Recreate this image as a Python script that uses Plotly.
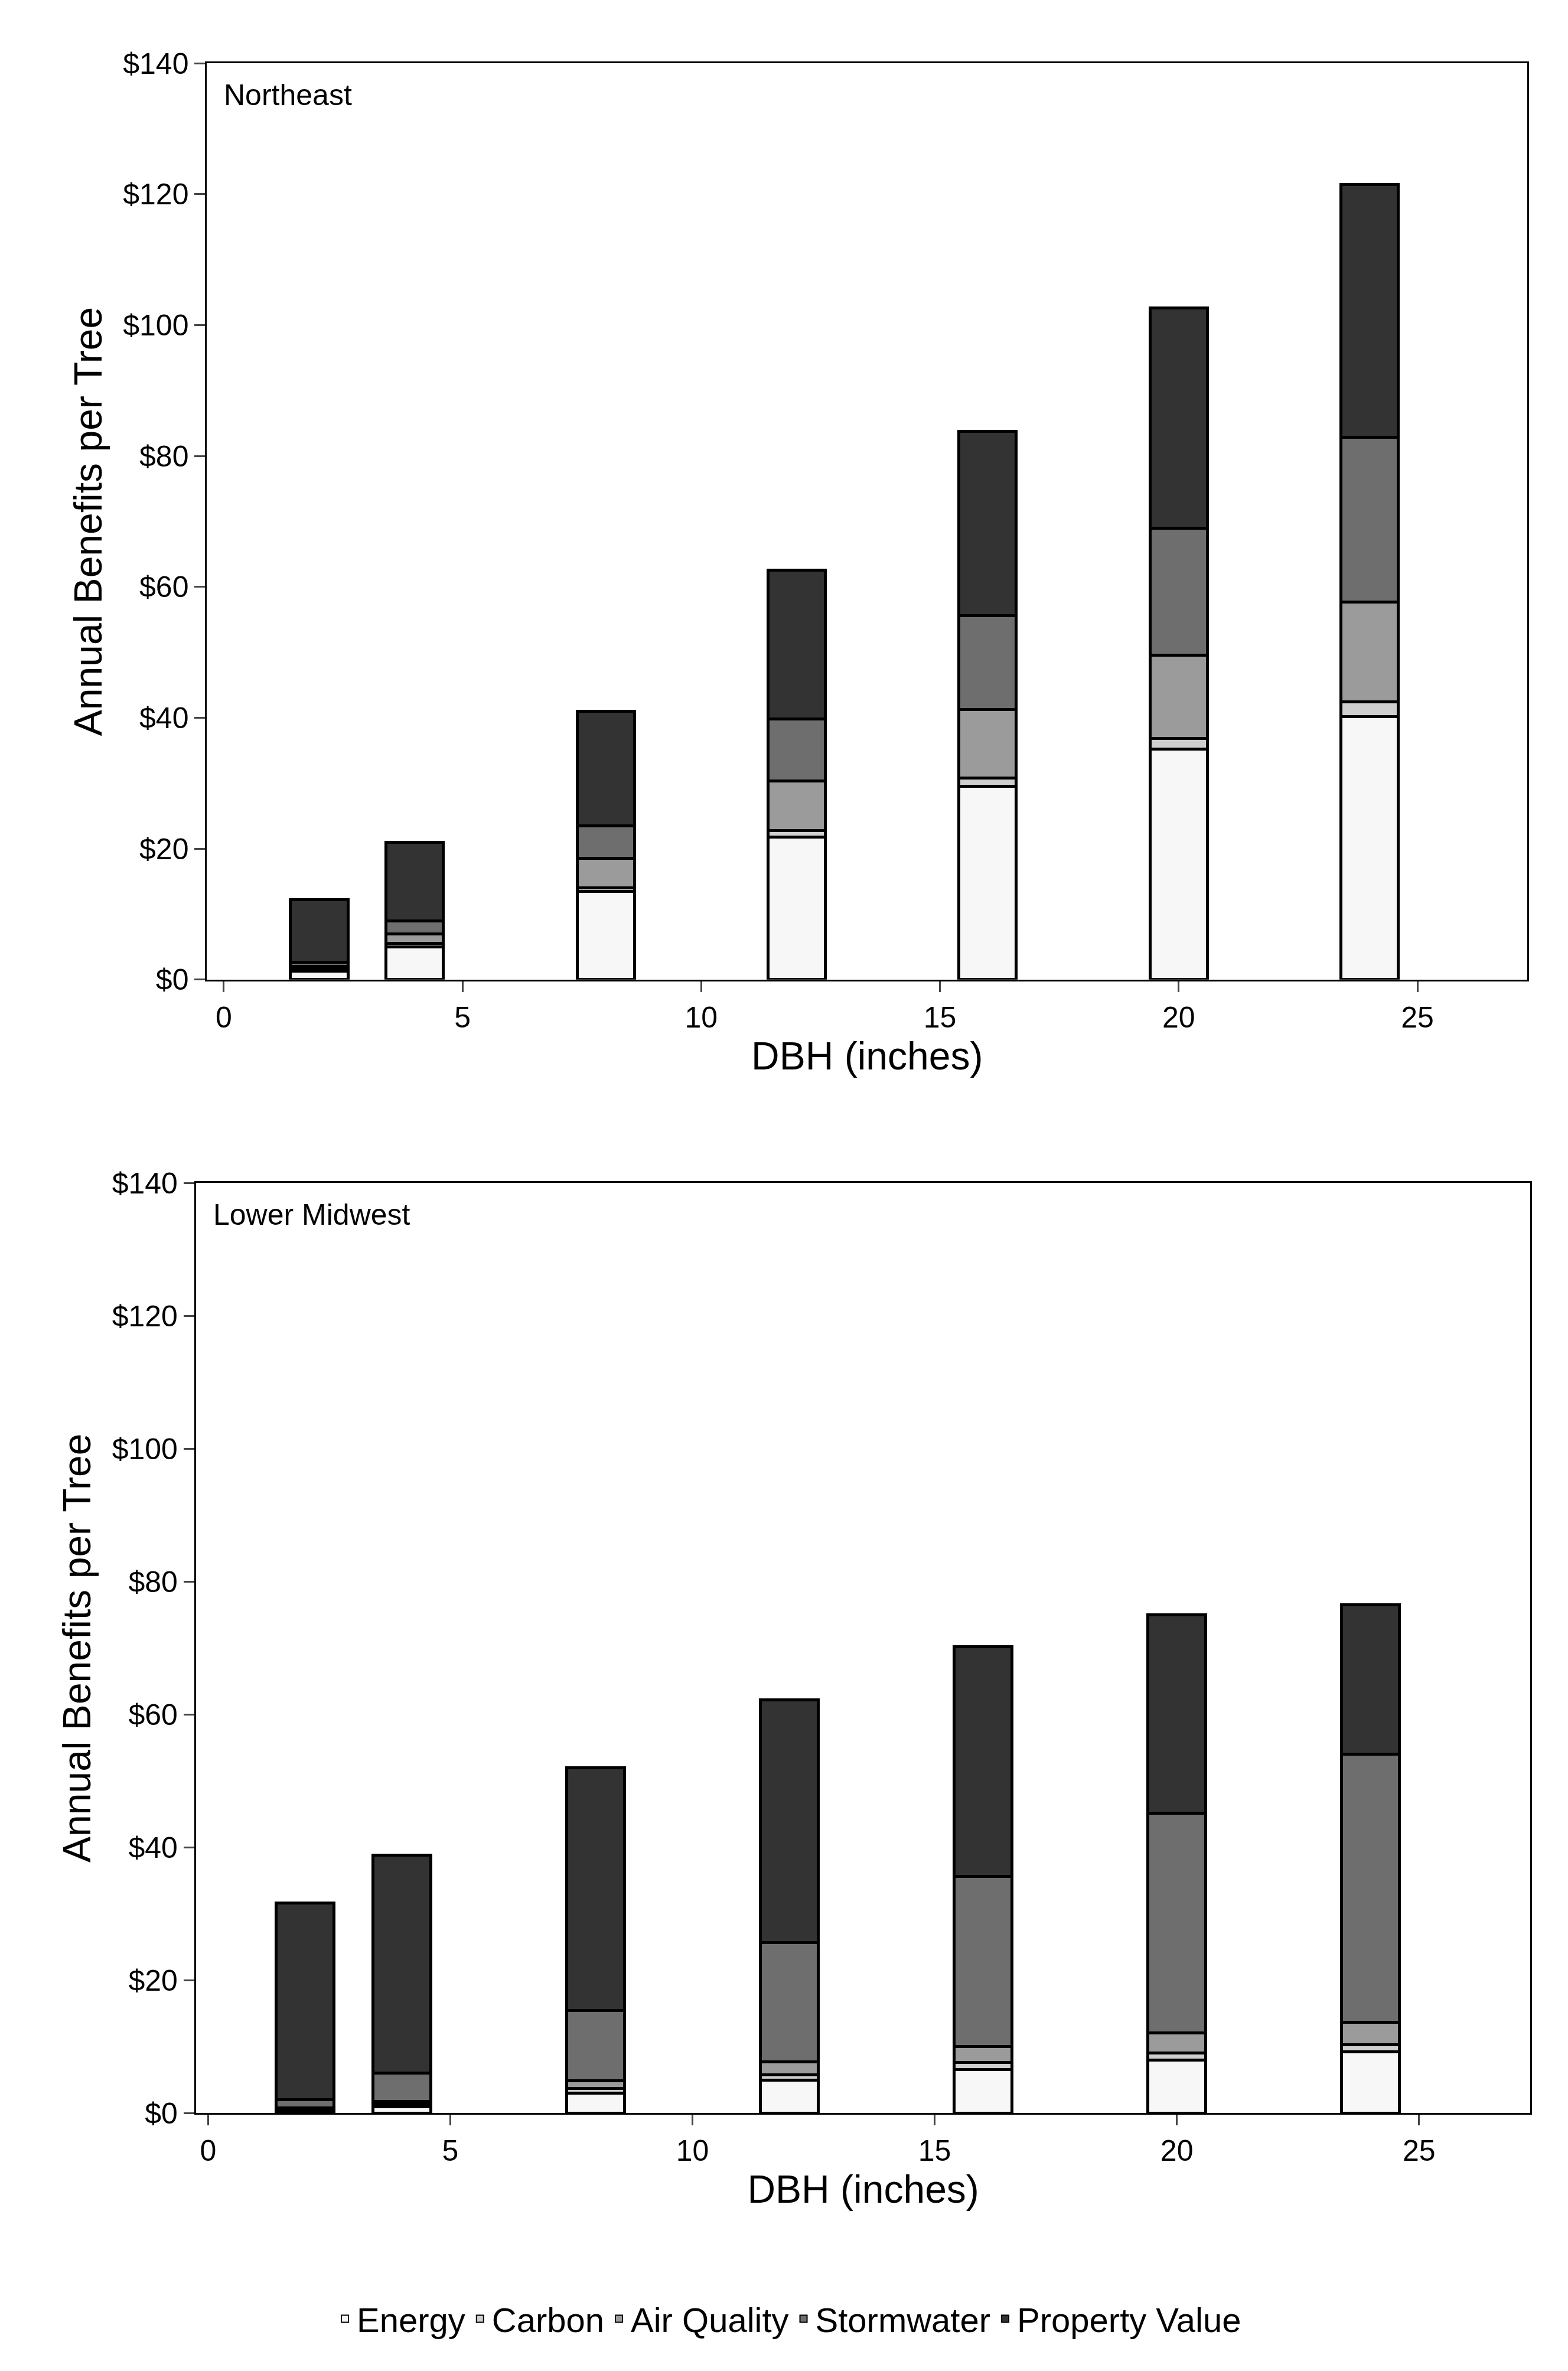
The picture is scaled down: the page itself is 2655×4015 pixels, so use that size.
import plotly.graph_objects as go

# Data
dbh = [2, 4, 8, 12, 16, 20, 24]
categories = ["Energy", "Carbon", "Air Quality", "Stormwater", "Property Value"]
colors = ["#f7f7f7", "#cfcfcf", "#9b9b9b", "#6e6e6e", "#333333"]

ne_energy = [1.3, 5.0, 13.5, 21.8, 29.5, 35.2, 40.2]
ne_carbon = [0.3, 0.5, 0.5, 1.0, 1.3, 1.6, 2.2]
ne_air = [0.4, 1.5, 4.5, 7.5, 10.5, 12.8, 15.3]
ne_storm = [0.6, 2.0, 5.0, 9.5, 14.3, 19.4, 25.2]
ne_property = [9.6, 12.0, 17.5, 22.8, 28.2, 33.6, 38.6]

lm_energy = [0.3, 1.0, 3.0, 5.0, 6.6, 8.0, 9.2]
lm_carbon = [0.2, 0.4, 0.7, 0.8, 1.0, 1.1, 1.1]
lm_air = [0.3, 0.4, 1.2, 1.9, 2.4, 3.0, 3.4]
lm_storm = [1.2, 4.2, 10.6, 18.0, 25.6, 33.0, 40.3]
lm_property = [29.6, 32.8, 36.5, 36.5, 34.6, 29.9, 22.5]

ne = [ne_energy, ne_carbon, ne_air, ne_storm, ne_property]
lm = [lm_energy, lm_carbon, lm_air, lm_storm, lm_property]

fig = go.Figure()

for name, color, top, bot in zip(categories, colors, ne, lm):
    fig.add_trace(go.Bar(x=dbh, y=top, name=name, marker=dict(color=color, line=dict(color="black", width=5)),
                         width=1.2, xaxis="x", yaxis="y", legendgroup=name))
    fig.add_trace(go.Bar(x=dbh, y=bot, name=name, marker=dict(color=color, line=dict(color="black", width=5)),
                         width=1.2, xaxis="x2", yaxis="y2", legendgroup=name, showlegend=False))

axis_font = dict(family="Liberation Sans, Arial", size=50, color="black")
xcommon = dict(showline=True, mirror=True, linecolor="black", linewidth=3, ticks="outside", ticklen=18,
               tickwidth=3, showgrid=False, zeroline=False, tickvals=[0, 5, 10, 15, 20, 25],
               tickfont=axis_font, title=dict(text="DBH (inches)", font=dict(family="Liberation Sans, Arial", size=66)))
ycommon = dict(showline=True, mirror=True, linecolor="black", linewidth=3, ticks="outside", ticklen=18,
               tickwidth=3, showgrid=False, zeroline=False, range=[0, 140], dtick=20, tickprefix="$",
               tickfont=axis_font, title=dict(text="Annual Benefits per Tree", font=dict(family="Liberation Sans, Arial", size=66)))

fig.update_layout(
    width=2655, height=4015,
    barmode="stack",
    paper_bgcolor="white", plot_bgcolor="white",
    margin=dict(l=0, r=0, t=0, b=0),
    font=dict(family="Liberation Sans, Arial", color="black"),
    xaxis=dict(xcommon, domain=[0.129, 0.971], range=[-0.35, 27.3], anchor="y"),
    yaxis=dict(ycommon, domain=[0.59, 0.982], anchor="x"),
    xaxis2=dict(xcommon, domain=[0.122, 0.973], range=[-0.25, 27.3], anchor="y2"),
    yaxis2=dict(ycommon, domain=[0.105, 0.503], anchor="x2"),
    legend=dict(orientation="h", x=0.5, xanchor="center", y=0.017, yanchor="middle",
                font=dict(family="Liberation Sans, Arial", size=58), itemsizing="constant", traceorder="normal"),
    annotations=[
        dict(text="Northeast", xref="x domain", yref="y domain", x=0.012, y=0.985, xanchor="left", yanchor="top",
             showarrow=False, font=dict(size=50)),
        dict(text="Lower Midwest", xref="x2 domain", yref="y2 domain", x=0.012, y=0.985, xanchor="left", yanchor="top",
             showarrow=False, font=dict(size=50)),
    ],
)

fig.write_html("out.html")
